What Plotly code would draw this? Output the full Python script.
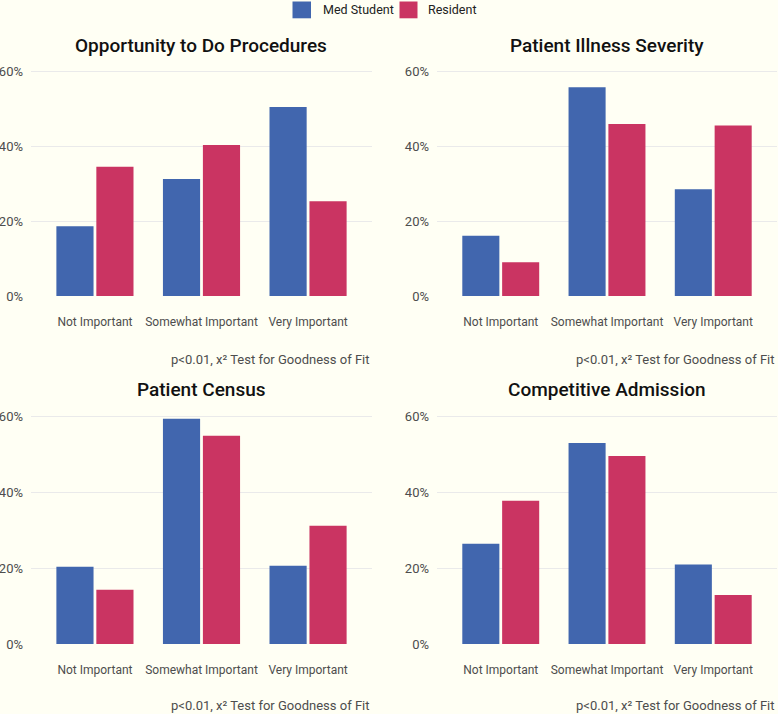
import plotly.graph_objects as go
from plotly.subplots import make_subplots

categories = ["Not Important", "Somewhat Important", "Very Important"]
groups = ["Med Student", "Resident"]
titles = ["Opportunity to Do Procedures", "Patient Illness Severity",
          "Patient Census", "Competitive Admission"]

procedures_med = [18.6, 31.2, 50.4]
procedures_res = [34.5, 40.3, 25.3]
severity_med = [16.1, 55.7, 28.5]
severity_res = [9.0, 45.9, 45.5]
census_med = [20.3, 59.3, 20.6]
census_res = [14.3, 54.8, 31.1]
admission_med = [26.4, 52.9, 20.9]
admission_res = [37.7, 49.5, 12.9]

caption = "p<0.01, x\u00b2 Test for Goodness of Fit"
tick_vals = [0, 20, 40, 60]
tick_text = ["0%", "20%", "40%", "60%"]

BLUE = "#4166AE"
PINK = "#CA3462"
BG = "#FFFFF4"
FONT = "Roboto"

W, H = 778, 714
panels = [
    (procedures_med, procedures_res),
    (severity_med, severity_res),
    (census_med, census_res),
    (admission_med, admission_res),
]
colors = [BLUE, PINK]

fig = make_subplots(rows=2, cols=2)

for i, (med, res) in enumerate(panels):
    r, c = i // 2 + 1, i % 2 + 1
    for g, vals in enumerate((med, res)):
        fig.add_trace(go.Bar(x=categories, y=vals, name=groups[g],
                             marker_color=colors[g], marker_line_width=0,
                             showlegend=False),
                      row=r, col=c)

# pixel-based layout
xdoms = [(31, 372), (437, 777)]
ydoms = [(296, 3.75), (644, 3.8)]  # zero pixel, px per percent
ymax = 61.5

for i in range(4):
    r, c = i // 2, i % 2
    x0, x1 = xdoms[c]
    zero, ppp = ydoms[r]
    top = zero - ymax * ppp
    xa = "xaxis" if i == 0 else f"xaxis{i+1}"
    ya = "yaxis" if i == 0 else f"yaxis{i+1}"
    fig.layout[xa].update(domain=[x0 / W, x1 / W], type="category",
                          range=[-0.6, 2.6], showgrid=False, zeroline=False,
                          showline=False, ticks="", automargin=False,
                          ticklabelstandoff=17,
                          tickfont=dict(family=FONT, size=12, color="#4D4D4D"))
    fig.layout[ya].update(domain=[1 - zero / H, 1 - top / H], range=[0, ymax],
                          tickvals=tick_vals, ticktext=tick_text,
                          showgrid=True, gridcolor="#EAEAEA", gridwidth=1,
                          zeroline=False, showline=False, ticks="",
                          automargin=False, ticklabelstandoff=7,
                          tickfont=dict(family=FONT, size=13, color="#4D4D4D"))

title_pos = [(201, 45), (606.5, 45), (201, 390), (607, 390)]
cap_pos = [(372, 359), (777, 359), (372, 705), (777, 705)]
ann = []
for i in range(4):
    tx, ty = title_pos[i]
    ann.append(dict(text=titles[i], x=tx / W, y=1 - ty / H, xref="paper", yref="paper",
                    xanchor="center", yanchor="middle", showarrow=False,
                    font=dict(family=FONT, size=19, color="#111111", weight=500)))
    cx, cy = cap_pos[i]
    ann.append(dict(text=caption, x=cx / W, y=1 - cy / H, xref="paper", yref="paper",
                    xanchor="right", yanchor="middle", showarrow=False,
                    font=dict(family=FONT, size=13, color="#4D4D4D")))

# custom legend (boxes + labels)
shapes = []
leg_boxes = [(292.5, 311), (399.5, 417.5)]
leg_text_x = [320.5, 426.5]
for g in range(2):
    bx0, bx1 = leg_boxes[g]
    shapes.append(dict(type="rect", xref="paper", yref="paper",
                       x0=bx0 / W, x1=bx1 / W, y0=1 - 18.3 / H, y1=1 - 1.5 / H,
                       fillcolor=colors[g], line_width=0))
    ann.append(dict(text=groups[g], x=leg_text_x[g] / W, y=1 - 10 / H,
                    xref="paper", yref="paper", xanchor="left", yanchor="middle",
                    showarrow=False, font=dict(family=FONT, size=12.5, color="#222222")))

fig.update_layout(
    width=W, height=H,
    margin=dict(l=0, r=0, t=0, b=0),
    paper_bgcolor=BG, plot_bgcolor=BG,
    barmode="group", bargap=0.25, bargroupgap=0.07,
    font=dict(family=FONT),
    annotations=ann,
    shapes=shapes,
    showlegend=False,
)

fig.write_html("out.html", config={"displayModeBar": False},
               post_script="document.body.style.margin='0';document.body.style.overflow='hidden';")
